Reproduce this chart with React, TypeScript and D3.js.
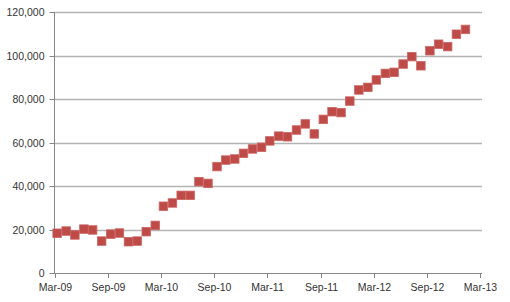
import React from "react";
import * as d3 from "d3";

const startMonth = "2009-03-01";
const values: number[] = [
  18400, 19400, 17600, 20300, 19900, 14800, 18000, 18500, 14500, 14800, 19100, 22000,
  30800, 32300, 35800, 35800, 42100, 41300, 49000, 52000, 52500, 55100, 57100, 57900,
  60800, 63000, 62700, 65800, 68600, 64000, 70700, 74200, 73800, 79100, 84200, 85400,
  88800, 91800, 92300, 96100, 99500, 95300, 102200, 105200, 104100, 109800, 112000,
];
const yTicks: number[] = [0, 20000, 40000, 60000, 80000, 100000, 120000];
const xTickLabels: string[] = ["Mar-09", "Sep-09", "Mar-10", "Sep-10", "Mar-11", "Sep-11", "Mar-12", "Sep-12", "Mar-13"];

const W = 510;
const H = 302;
const left = 54.5;
const right = 480;
const gridRight = 482;
const top = 12;
const bottom = 273.3;

export default function App() {
  const parse = d3.timeParse("%Y-%m-%d");
  const start = parse(startMonth) as Date;
  const end = d3.timeMonth.offset(start, 48);
  const x = d3.scaleTime().domain([start, end]).range([left, right]);
  const y = d3.scaleLinear().domain([0, 120000]).range([bottom, top]);
  const fmt = d3.format(",");
  const tickDates = xTickLabels.map((_, i) => d3.timeMonth.offset(start, i * 6));
  const pts = values.map((v, i) => ({ d: d3.timeDay.offset(d3.timeMonth.offset(start, i), 9), v }));
  const ms = 8.5;
  const font = "'Liberation Sans', Arial, sans-serif";

  return (
    <svg width={W} height={H} style={{ position: "absolute", left: 0, top: 0, background: "#fff" }}>
      {yTicks.map((t) => {
        const yy = Math.round(y(t)) + 0.5;
        return (
          <g key={t}>
            {t > 0 && <line x1={left} x2={gridRight} y1={yy} y2={yy} stroke="#B4B4B4" strokeWidth={1.3} />}
            <line x1={left - 5} x2={left} y1={yy} y2={yy} stroke="#868686" strokeWidth={1} />
            <text x={left - 10} y={yy} dy="0.38em" textAnchor="end" fontFamily={font} fontSize={10.5} fill="#333">
              {fmt(t)}
            </text>
          </g>
        );
      })}
      <line x1={left} x2={left} y1={top} y2={bottom} stroke="#868686" strokeWidth={1} />
      <line x1={left} x2={gridRight} y1={Math.round(bottom) + 0.5} y2={Math.round(bottom) + 0.5} stroke="#868686" strokeWidth={1} />
      {tickDates.map((d, i) => {
        const xx = Math.round(x(d)) + 0.5;
        return (
          <g key={i}>
            <line x1={xx} x2={xx} y1={Math.round(bottom) + 0.5} y2={Math.round(bottom) + 5} stroke="#868686" strokeWidth={1} />
            <text x={xx} y={291} textAnchor="middle" fontFamily={font} fontSize={10.5} fill="#333">
              {xTickLabels[i]}
            </text>
          </g>
        );
      })}
      {pts.map((p, i) => (
        <rect
          key={i}
          x={x(p.d) - ms / 2}
          y={y(p.v) - ms / 2}
          width={ms}
          height={ms}
          fill="#BE4B48"
          stroke="#CB6461"
          strokeWidth={0.8}
        />
      ))}
    </svg>
  );
}
